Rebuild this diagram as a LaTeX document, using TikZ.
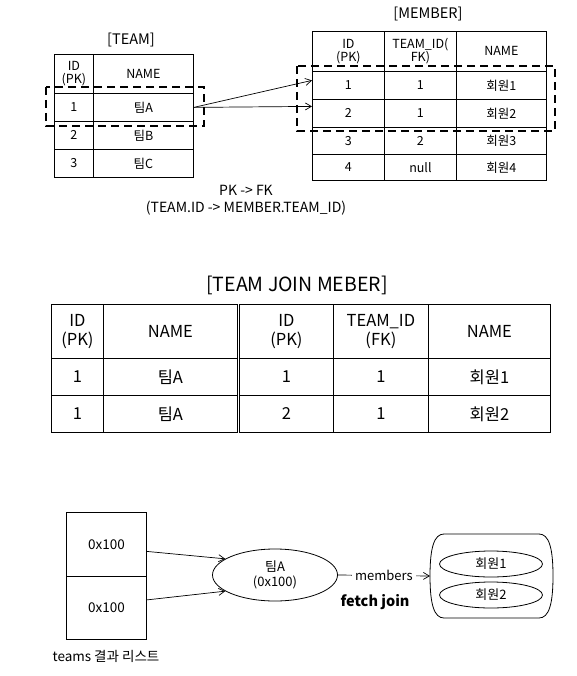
\documentclass[tikz,border=0pt]{standalone}
\usepackage{fontspec}
\setmainfont{Noto Sans CJK KR}
\usetikzlibrary{arrows.meta,shapes.geometric,calc}
\tikzset{
  cell/.style={draw,line width=0.8pt,inner sep=0pt,align=center,font=\fontsize{12.5}{13}\selectfont},
  jcell/.style={cell,font=\fontsize{16.5}{19}\selectfont},
  title/.style={font=\fontsize{14.5}{16}\selectfont,inner sep=0pt},
  dashbox/.style={line width=2pt,dash pattern=on 8pt off 5pt},
  arr/.style={-{Straight Barb[length=6pt,width=7pt]},line width=0.7pt},
  ell/.style={draw,ellipse,line width=0.8pt,inner sep=0pt,align=center,font=\fontsize{13}{15}\selectfont}
}
\newcommand\mycell[7][cell]{\node[#1,minimum width=#5pt,minimum height=#6pt,anchor=north west] (#2) at (#3,#4) {#7};}
\begin{document}
\begin{tikzpicture}[x=1pt,y=-1pt]
\fill[white] (0,0) rectangle (576,676);
\useasboundingbox (0,0) rectangle (576,676);
% TEAM
\node[title] (tteam) at (131,40) {[TEAM]};
\mycell{t0id}{54}{54}{39}{39}{ID\\(PK)}
\mycell{t0name}{93}{54}{100}{39}{NAME}
\mycell{t1id}{54}{93}{39}{28}{1}
\mycell{t1name}{93}{93}{100}{28}{팀A}
\mycell{t2id}{54}{121}{39}{28}{2}
\mycell{t2name}{93}{121}{100}{28}{팀B}
\mycell{t3id}{54}{149}{39}{28}{3}
\mycell{t3name}{93}{149}{100}{28}{팀C}
% MEMBER
\node[title] (tmember) at (428,14) {[MEMBER]};
\mycell{m0id}{312}{31}{72}{40}{ID\\(PK)}
\mycell{m0fk}{384}{31}{72}{40}{TEAM\_ID(\\FK)}
\mycell{m0name}{456}{31}{90}{40}{NAME}
\mycell{m1id}{312}{71}{72}{28}{1}
\mycell{m1fk}{384}{71}{72}{28}{1}
\mycell{m1name}{456}{71}{90}{28}{회원1}
\mycell{m2id}{312}{99}{72}{28}{2}
\mycell{m2fk}{384}{99}{72}{28}{1}
\mycell{m2name}{456}{99}{90}{28}{회원2}
\mycell{m3id}{312}{127}{72}{27}{3}
\mycell{m3fk}{384}{127}{72}{27}{2}
\mycell{m3name}{456}{127}{90}{27}{회원3}
\mycell{m4id}{312}{154}{72}{26}{4}
\mycell{m4fk}{384}{154}{72}{26}{null}
\mycell{m4name}{456}{154}{90}{26}{회원4}
% dashed boxes
\draw[dashbox] (46,87) rectangle (204,126);
\draw[dashbox] (297,66) rectangle (555,131);
% FK arrows
\draw[arr] (t1name.east) -- ($(m1id.west)+(0,-5)$);
\draw[arr] (t1name.east) -- ($(m2id.west)+(0,-7)$);
\node[align=center,inner sep=0pt,font=\fontsize{14}{17}\selectfont] (pkfk) at (246,200) {PK -> FK\\(TEAM.ID -> MEMBER.TEAM\_ID)};
% JOIN
\node[title,font=\fontsize{19.5}{21}\selectfont] (tjoin) at (297,285) {[TEAM JOIN MEBER]};
\mycell[jcell]{j0a}{51}{304}{52}{54}{ID\\(PK)}
\mycell[jcell]{j0b}{103}{304}{134}{54}{NAME}
\mycell[jcell]{j0c}{239}{304}{94}{54}{ID\\(PK)}
\mycell[jcell]{j0d}{333}{304}{95}{54}{TEAM\_ID\\(FK)}
\mycell[jcell]{j0e}{428}{304}{122}{54}{NAME}
\mycell[jcell]{j1a}{51}{358}{52}{37}{1}
\mycell[jcell]{j1b}{103}{358}{134}{37}{팀A}
\mycell[jcell]{j1c}{239}{358}{94}{37}{1}
\mycell[jcell]{j1d}{333}{358}{95}{37}{1}
\mycell[jcell]{j1e}{428}{358}{122}{37}{회원1}
\mycell[jcell]{j2a}{51}{395}{52}{37}{1}
\mycell[jcell]{j2b}{103}{395}{134}{37}{팀A}
\mycell[jcell]{j2c}{239}{395}{94}{37}{2}
\mycell[jcell]{j2d}{333}{395}{95}{37}{1}
\mycell[jcell]{j2e}{428}{395}{122}{37}{회원2}
% bottom
\mycell[cell,font=\fontsize{13.5}{15}\selectfont]{l1}{66}{512}{80}{64}{0x100}
\mycell[cell,font=\fontsize{13.5}{15}\selectfont]{l2}{66}{576}{80}{63}{0x100}
\node[inner sep=0pt,font=\fontsize{13.5}{15}\selectfont] (lcap) at (106,656) {teams 결과 리스트};
\node[ell,minimum width=125pt,minimum height=52pt] (teamA) at (275,575) {팀A\\(0x100)};
\draw[arr] ($(l1.east)+(0,7)$) -- (teamA.162);
\draw[arr] ($(l2.east)+(0,-8)$) -- (teamA.198);
\draw[line width=0.8pt] (444,534) -- (539,534) .. controls (549,534) and (553,548) .. (553,576) .. controls (553,604) and (549,618) .. (539,618) -- (444,618) .. controls (434,618) and (430,604) .. (430,576) .. controls (430,548) and (434,534) .. (444,534) -- cycle;
\coordinate (mbox) at (430,576);
\node[ell,minimum width=103pt,minimum height=26pt] (mem1) at (491,564) {회원1};
\node[ell,minimum width=103pt,minimum height=26pt] (mem2) at (491,595) {회원2};
\draw[arr] (teamA.east) -- node[fill=white,inner sep=3pt,font=\fontsize{13}{15}\selectfont] (mlabel) {members} (mbox);
\node[inner sep=0pt,font=\bfseries\fontsize{14.5}{16}\selectfont] (fj) at (375,602) {fetch join};
\end{tikzpicture}
\end{document}
